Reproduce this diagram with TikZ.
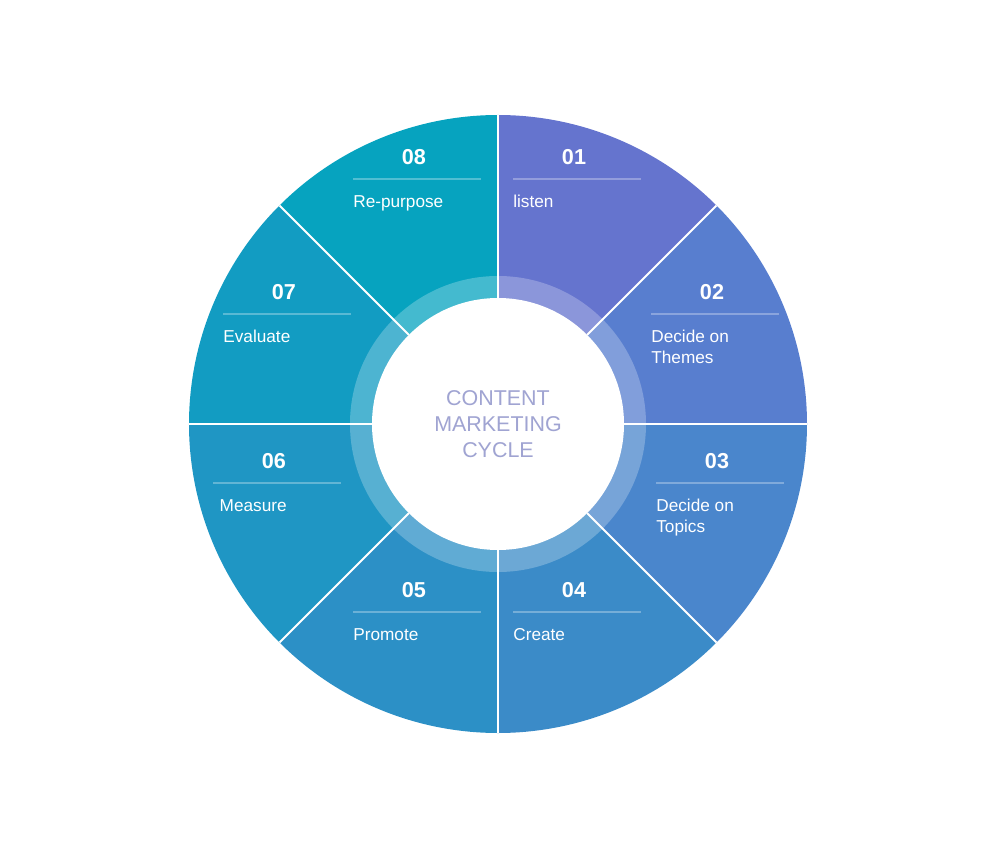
\documentclass[tikz,border=0pt]{standalone}
\usepackage{fontspec}
\setmainfont{Liberation Sans}
\usetikzlibrary{positioning}
\definecolor{segA}{HTML}{6574CE}
\definecolor{segB}{HTML}{587ECF}
\definecolor{segC}{HTML}{4A86CC}
\definecolor{segD}{HTML}{3B8BC8}
\definecolor{segE}{HTML}{2C90C6}
\definecolor{segF}{HTML}{1F96C4}
\definecolor{segG}{HTML}{129CC2}
\definecolor{segH}{HTML}{06A3BF}
\definecolor{titlegray}{HTML}{A0A4D2}

\tikzset{
  segnum/.style={text=white,inner sep=0pt,font=\fontsize{12.3}{14}\selectfont\bfseries},
  seglabel/.style={text=white,inner sep=0pt,anchor=north west,align=left,font=\fontsize{9.8}{11.9}\selectfont},
  segrule/.style={white,opacity=0.3,line width=0.6pt},
  segcut/.style={white,line width=1.1pt}
}

\begin{document}
\begin{tikzpicture}[x=0.02cm,y=0.02cm]
    \useasboundingbox (-498,-421) rectangle (502,424);
    % the eight slices, 01 starts at the top and runs clockwise
    \foreach \i/\col in {1/segA,2/segB,3/segC,4/segD,5/segE,6/segF,7/segG,8/segH}{
      \fill[\col] (0,0) -- ({135-45*\i}:309) arc ({135-45*\i}:{90-45*\i}:309) -- cycle;
    }
    \fill[white,opacity=0.25] (0,0) circle (148);
    \fill[white] (0,0) circle (126);
    \foreach \a in {90,45,...,-225}{\draw[segcut] (\a:126) -- (\a:309);}
    \node[text=titlegray,align=center,font=\fontsize{12.2}{14.8}\selectfont] (title) at (0,0) {CONTENT\\MARKETING\\CYCLE};
    \foreach \n/\x/\y/\txt in {01/15/245/listen,02/153/110/{Decide on\\Themes},03/158/-59/{Decide on\\Topics},
        04/15/-188/Create,05/-145/-188/Promote,06/-285/-59/\hspace{9\pgflinewidth}Measure,
        07/-275/110/Evaluate,08/-145/245/Re-purpose}{
      \node[segnum] (num\n) at (\x+61,\y+22) {\n};
      \draw[segrule] (\x,\y) -- ++(128,0);
      \node[seglabel] (lab\n) at (\x,\y-16) {\txt};
    }
\end{tikzpicture}
\end{document}
